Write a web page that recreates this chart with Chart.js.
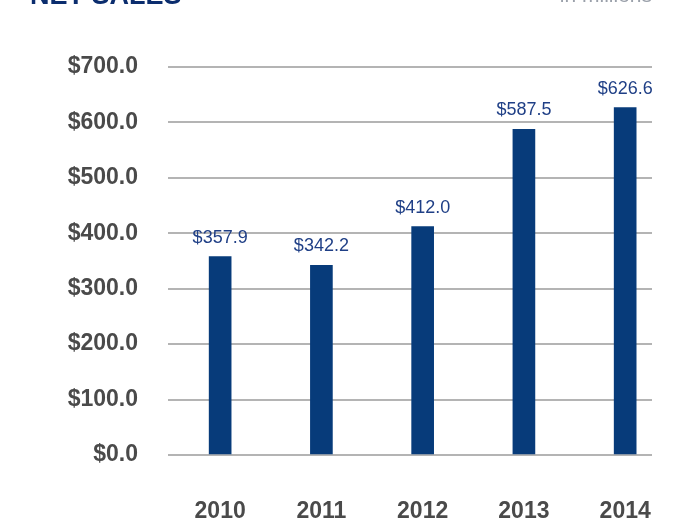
<!DOCTYPE html>
<html>
<head>
<meta charset="utf-8">
<script src="https://cdn.jsdelivr.net/npm/chart.js@4.4.1/dist/chart.umd.min.js"></script>
<style>
  html, body { margin: 0; padding: 0; background: #fff; }
  #wrap { width: 700px; height: 525px; }
</style>
</head>
<body>
<div id="wrap"><canvas id="myChart" width="700" height="525"></canvas></div>
<script>
var years = ["2010", "2011", "2012", "2013", "2014"];
var netSales = [357.9, 342.2, 412.0, 587.5, 626.6];
var yTicks = [0, 100, 200, 300, 400, 500, 600, 700];

var barBlue = "#073b7a";
var labelFont = "'Liberation Sans', Arial, sans-serif";

// value labels above the bars + the cut-off header text
var valueLabels = {
    id: "valueLabels",
    afterDatasetsDraw: function (chart) {
        var ctx = chart.ctx;
        var meta = chart.getDatasetMeta(0);
        ctx.save();
        ctx.fillStyle = "#1f3f86";
        ctx.font = "18px " + labelFont;
        ctx.textAlign = "center";
        ctx.textBaseline = "middle";
        meta.data.forEach(function (bar, i) {
            ctx.fillText("$" + netSales[i].toFixed(1), bar.x, bar.y - 19);
        });

        ctx.font = "bold 27px " + labelFont;
        ctx.textAlign = "left";
        ctx.textBaseline = "alphabetic";
        ctx.fillStyle = "#0b2d6e";
        ctx.fillText("NET SALES", 30, 4);
        ctx.font = "21px " + labelFont;
        ctx.textAlign = "right";
        ctx.fillStyle = "#9aa0aa";
        ctx.fillText("in millions", 652, 2);
        ctx.restore();
    }
};

var ctx = document.getElementById("myChart").getContext("2d");
var chart = new Chart(ctx, {
    type: "bar",
    data: {
        datasets: [{
            label: "Net Sales",
            backgroundColor: barBlue,
            data: netSales.map(function (v, i) { return { x: i, y: v }; }),
            barThickness: 22
        }]
    },
    options: {
        responsive: false,
        animation: false,
        layout: { padding: { top: 67, right: 48, bottom: 2, left: 0 } },
        plugins: {
            legend: { display: false },
            tooltip: { enabled: false }
        },
        scales: {
            x: {
                type: "linear",
                offset: false,
                min: -0.515,
                max: 4.265,
                grid: { display: false },
                border: { display: false },
                afterFit: function (scale) { scale.height = 68; },
                afterBuildTicks: function (scale) {
                    scale.ticks = years.map(function (y, i) { return { value: i }; });
                },
                ticks: {
                    padding: 35,
                    maxRotation: 0,
                    autoSkip: false,
                    color: "#4a4a4a",
                    font: { family: labelFont, size: 23, weight: "bold" },
                    callback: function (v) { return years[v]; }
                }
            },
            y: {
                min: 0,
                max: 700,
                afterFit: function (scale) { scale.width = 168; },
                afterBuildTicks: function (scale) {
                    scale.ticks = yTicks.map(function (v) { return { value: v }; });
                },
                grid: { color: "#b4b4b4", lineWidth: 2, drawTicks: false },
                border: { display: false },
                ticks: {
                    padding: 30,
                    color: "#4a4a4a",
                    font: { family: labelFont, size: 23, weight: "bold" },
                    callback: function (v) { return "$" + v.toFixed(1); }
                }
            }
        }
    },
    plugins: [valueLabels]
});
</script>
</body>
</html>
